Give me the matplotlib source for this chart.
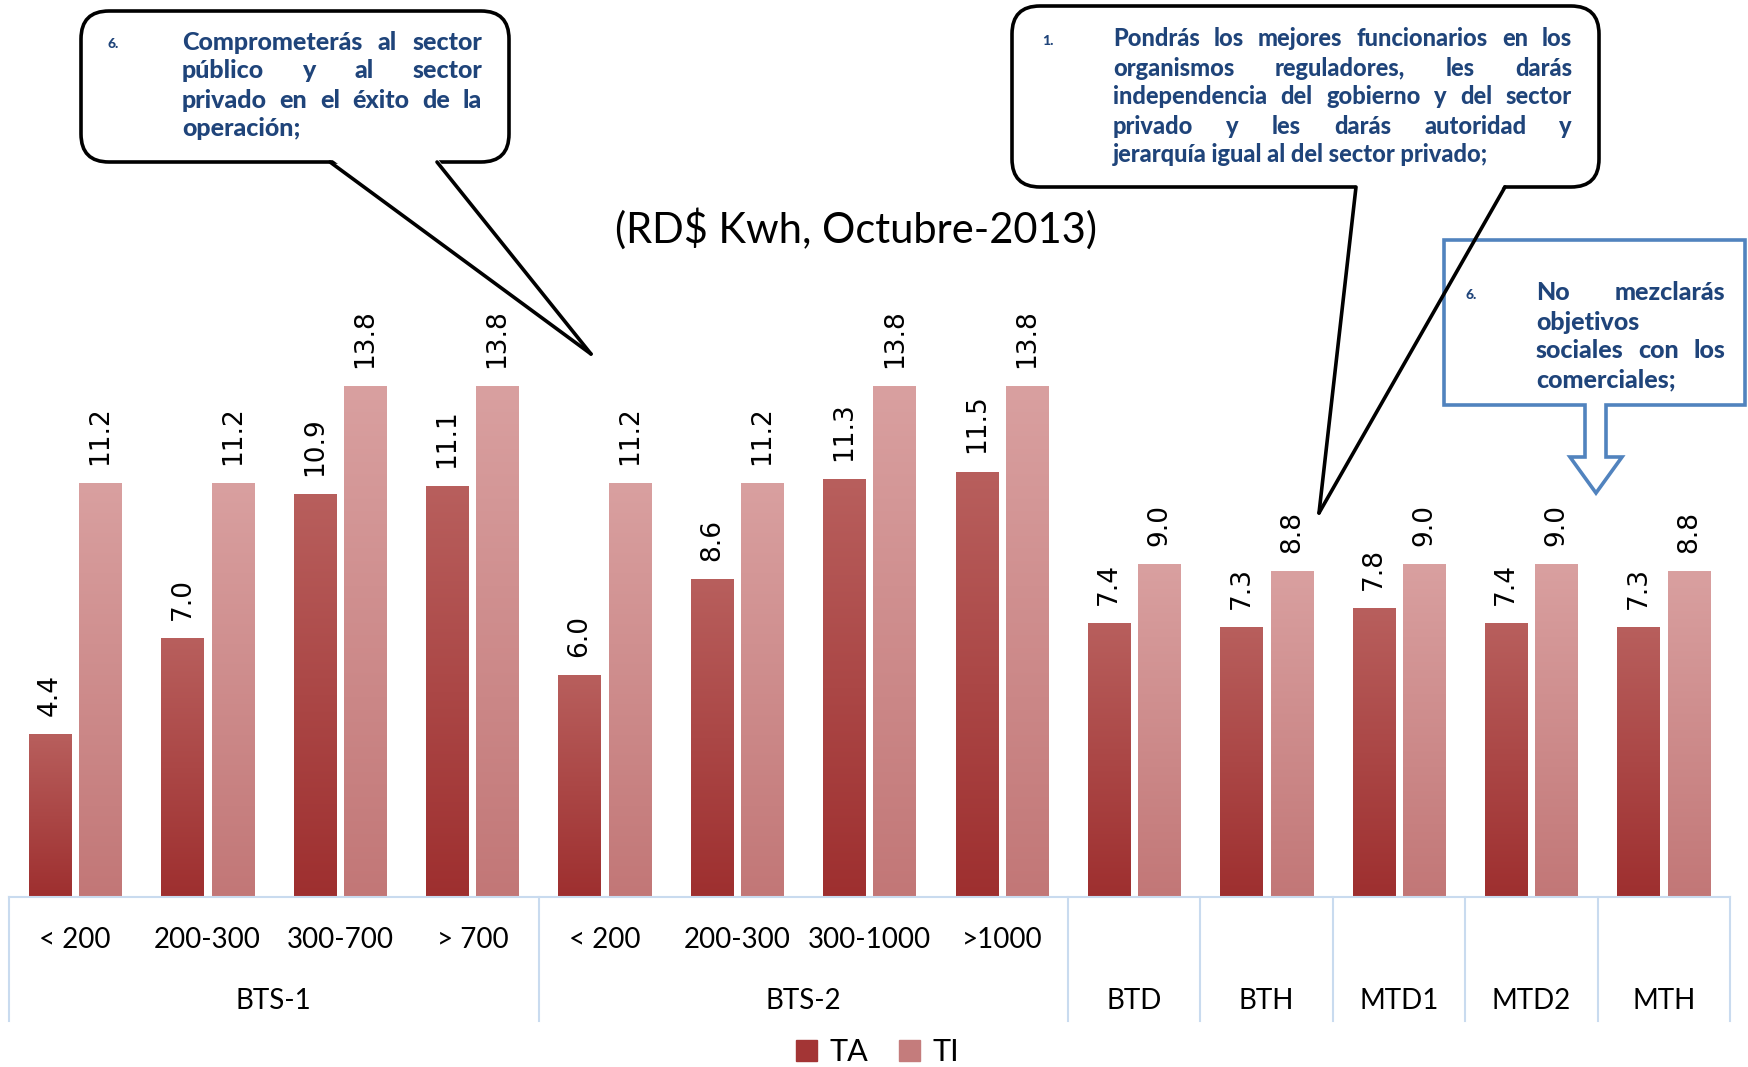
import numpy as np
import matplotlib.pyplot as plt
from matplotlib.patches import FancyBboxPatch, Polygon, Patch
from matplotlib.colors import LinearSegmentedColormap
import matplotlib.transforms as mtransforms

# datos
sub_labels = ['< 200', '200-300', '300-700', '> 700', '< 200', '200-300', '300-1000', '>1000']
groups = ['BTS-1', 'BTS-2', 'BTD', 'BTH', 'MTD1', 'MTD2', 'MTH']
group_sizes = [4, 4, 1, 1, 1, 1, 1]
ta = [4.4, 7.0, 10.9, 11.1, 6.0, 8.6, 11.3, 11.5, 7.4, 7.3, 7.8, 7.4, 7.3]
ti = [11.2, 11.2, 13.8, 13.8, 11.2, 11.2, 13.8, 13.8, 9.0, 8.8, 9.0, 9.0, 8.8]

W, H = 1748, 1067
fig = plt.figure(figsize=(W / 100, H / 100), dpi=100)
ax = fig.add_axes([9 / W, 1 - 897 / H, 1721 / W, 592 / H])
n = len(ta)
x = np.arange(n)
bw = 0.32

cm_ta = LinearSegmentedColormap.from_list('ta', ['#9e2f2f', '#b85f5d'])
cm_ti = LinearSegmentedColormap.from_list('ti', ['#c27777', '#d9a0a0'])

bars_ta = ax.bar(x - 0.19, ta, bw, color='#a33535', zorder=2)
bars_ti = ax.bar(x + 0.19, ti, bw, color='#c47c7c', zorder=2)

# degradado en cada barra
grad = np.linspace(0, 1, 256).reshape(-1, 1)
for bars, cm in [(bars_ta, cm_ta), (bars_ti, cm_ti)]:
    for b in bars:
        x0, w, h = b.get_x(), b.get_width(), b.get_height()
        im = ax.imshow(grad, cmap=cm, origin='lower', aspect='auto',
                       extent=(x0, x0 + w, 0, h), zorder=3)
        im.set_clip_path(b)

# etiquetas de valor
for bars in [bars_ta, bars_ti]:
    for b in bars:
        ax.annotate('%.1f' % b.get_height(), (b.get_x() + b.get_width() / 2, b.get_height()),
                    xytext=(0, 13), textcoords='offset points', rotation=90,
                    ha='center', va='bottom', fontsize=19, family='DejaVu Sans')

ax.set_xlim(-0.5, n - 0.5)
ax.set_ylim(0, 16)
ax.axis('off')

# eje de categorias con dos niveles
trans = mtransforms.blended_transform_factory(ax.transData, ax.transAxes)
lc = '#c9dbef'
ax.plot([-0.5, n - 0.5], [0, 0], color=lc, lw=1.5, transform=trans, clip_on=False, zorder=4)
bounds = np.concatenate([[0], np.cumsum(group_sizes)]) - 0.5
for bx in bounds:
    ax.plot([bx, bx], [0, -0.209], color=lc, lw=1.5, transform=trans, clip_on=False)
for i, s in enumerate(sub_labels):
    ax.text(i, -0.0726, s, transform=trans, ha='center', va='center', fontsize=20, family='Lato')
for g, a, b in zip(groups, bounds[:-1], bounds[1:]):
    ax.text((a + b) / 2, -0.176, g, transform=trans, ha='center', va='center', fontsize=20, family='Lato')

# leyenda
fig.legend(handles=[Patch(color='#a33535', label='TA'), Patch(color='#c47c7c', label='TI')],
           loc='center', bbox_to_anchor=(0.502, 1 - 1052 / H), ncol=2, frameon=False,
           prop={'family': 'Lato', 'size': 22}, handlelength=0.7, handleheight=0.7,
           handletextpad=0.4, columnspacing=1.0)

# capa superior en pixeles
ov = fig.add_axes([0, 0, 1, 1])
ov.set_xlim(0, W)
ov.set_ylim(H, 0)
ov.axis('off')

ov.text(856, 229, '(RD$ Kwh, Octubre-2013)', ha='center', va='center', fontsize=30, family='Lato')

r = fig.canvas.get_renderer()
navy = '#1f447a'


def parrafo(lines, x0, x1, y0, dy, size):
    for i, (line, just) in enumerate(lines):
        y = y0 + i * dy
        words = line.split()
        if not just or len(words) == 1:
            ov.text(x0, y, line, ha='left', va='center', fontsize=size, fontweight='black',
                    family='Lato', color=navy)
            continue
        ts = [ov.text(0, y, w, ha='left', va='center', fontsize=size, fontweight='black',
                      family='Lato', color=navy) for w in words]
        ws = [t.get_window_extent(r).width for t in ts]
        gap = (x1 - x0 - sum(ws)) / (len(words) - 1)
        xx = x0
        for t, w in zip(ts, ws):
            t.set_x(xx)
            xx += w + gap


def burbuja(x0, y0, x1, y1, b1, b2, tip):
    ov.add_patch(FancyBboxPatch((x0, y0), x1 - x0, y1 - y0,
                                boxstyle='round,pad=0,rounding_size=28',
                                fc='white', ec='black', lw=2.6))
    ov.add_patch(Polygon([(b1, y1 - 4), (b2, y1 - 4), tip], closed=True, fc='white', ec='none'))
    ov.plot([b1, tip[0]], [y1, tip[1]], color='black', lw=2.6, solid_capstyle='round')
    ov.plot([b2, tip[0]], [y1, tip[1]], color='black', lw=2.6, solid_capstyle='round')


# burbuja izquierda
burbuja(81, 11, 509, 162, 330, 437, (591, 354))
ov.text(108, 44, '6.', ha='left', va='center', fontsize=10, fontweight='black', family='Lato', color=navy)
parrafo([('Comprometerás al sector', True), ('público y al sector', True),
         ('privado en el éxito de la', True), ('operación;', False)],
        182, 482, 42, 29, 18)

# burbuja derecha
burbuja(1012, 6, 1599, 187, 1356, 1505, (1319, 513))
ov.text(1042, 41, '1.', ha='left', va='center', fontsize=10, fontweight='black', family='Lato', color=navy)
parrafo([('Pondrás los mejores funcionarios en los', True),
         ('organismos reguladores, les darás', True),
         ('independencia del gobierno y del sector', True),
         ('privado y les darás autoridad y', True),
         ('jerarquía igual al del sector privado;', False)],
        1113, 1572, 39, 29, 17)

# caja azul con flecha
ov.add_patch(Polygon([(1444, 240), (1745, 240), (1745, 405), (1606, 405), (1606, 457),
                      (1622, 457), (1596, 493), (1570, 457), (1585, 457), (1585, 405),
                      (1444, 405)], closed=True, fc='white', ec='#5183be', lw=2.6))
ov.text(1465, 295, '6.', ha='left', va='center', fontsize=10, fontweight='black', family='Lato', color=navy)
parrafo([('No mezclarás', True), ('objetivos', False), ('sociales con los', True),
         ('comerciales;', False)],
        1536, 1725, 293, 29, 18)

plt.savefig('out.png', dpi=100)
